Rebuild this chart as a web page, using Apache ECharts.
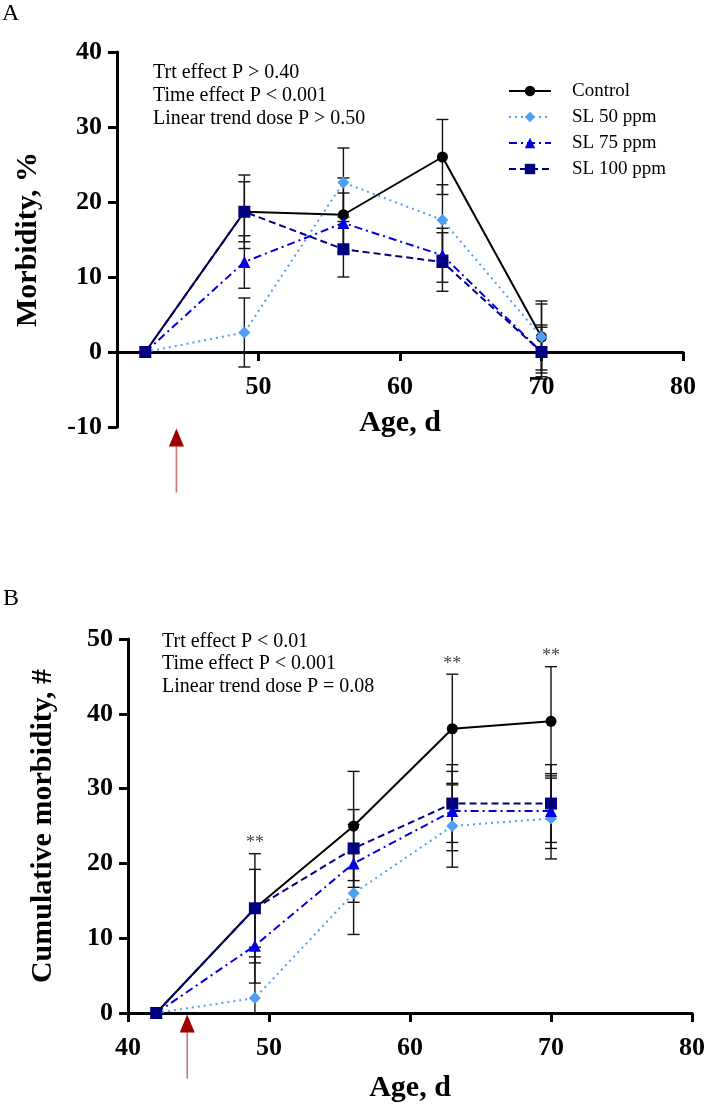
<!DOCTYPE html>
<html>
<head>
<meta charset="utf-8">
<script src="https://cdn.jsdelivr.net/npm/echarts@6/dist/echarts.min.js"></script>
<style>
html,body{margin:0;padding:0;background:#fff;}
#chart{width:708px;height:1104px;}
</style>
</head>
<body>
<div id="chart"></div>
<script>
// ---------- data ----------
const days = [42, 49, 56, 63, 70];
const xTicks = [40, 50, 60, 70, 80];
const seriesNames = ['Control', 'SL 50 ppm', 'SL 75 ppm', 'SL 100 ppm'];

// Panel A: Morbidity, %
const ctrlA  = [0, 18.7, 18.3, 26.0, 2.0];
const sl50A  = [0, 2.6, 22.6, 17.6, 2.0];
const sl75A  = [0, 12.0, 17.2, 12.9, 0];
const sl100A = [0, 18.7, 13.7, 12.0, 0];
const ctrlErrA  = [0, 4.9, 4.9, 5.0, 4.8];
const sl50ErrA  = [0, 4.6, 4.6, 4.7, 4.4];
const sl75ErrA  = [0, 3.5, 4.0, 3.6, 3.3];
const sl100ErrA = [0, 4.0, 3.7, 3.9, 3.6];
const yTicksA = [-10, 0, 10, 20, 30, 40];

// Panel B: Cumulative morbidity, #
const ctrlB  = [0, 14, 25, 38, 39];
const sl50B  = [0, 2, 16, 25, 26];
const sl75B  = [0, 9, 20, 27, 27];
const sl100B = [0, 14, 22, 28, 28];
const ctrlErrB  = [0, 7.3, 7.3, 7.3, 7.3];
const sl50ErrB  = [0, 5.5, 5.5, 5.5, 5.4];
const sl75ErrB  = [0, 5.0, 5.2, 5.3, 5.0];
const sl100ErrB = [0, 5.2, 5.2, 5.2, 5.2];
const yTicksB = [0, 10, 20, 30, 40, 50];

const sigDaysB = [49, 63, 70];    // days marked ** in panel B
const treatmentDay = 44.2;        // red arrow

const annotA = ['Trt effect P > 0.40', 'Time effect P < 0.001', 'Linear trend dose P > 0.50'];
const annotB = ['Trt effect P < 0.01', 'Time effect P < 0.001', 'Linear trend dose P = 0.08'];

// ---------- styles ----------
const FF = '"Liberation Serif", "Times New Roman", serif';
const styles = [
  {color: '#000000', symbol: 'circle', size: 11, type: 'solid'},
  {color: '#4d9ef5', symbol: 'diamond', size: 12, type: [2, 4]},
  {color: '#0000e6', symbol: 'triangle', size: 12, type: [8, 4, 2, 4]},
  {color: '#000080', symbol: 'rect', size: 12, type: [7, 4]}
];

function zip(x, y) { return x.map((v, i) => [v, y[i]]); }
function zip3(x, y, e) { return x.map((v, i) => [v, y[i], e[i]]); }

function errSeries(gi, vals, errs, clipMin) {
  return {
    type: 'custom', xAxisIndex: gi, yAxisIndex: gi, z: 1, silent: true,
    data: zip3(days, vals, errs),
    encode: {x: 0, y: 1},
    renderItem: function (params, api) {
      const x = api.value(0), y = api.value(1), e = api.value(2);
      if (!e) return;
      let lo = y - e, hi = y + e, lowCap = true;
      if (clipMin != null && lo < clipMin) { lo = clipMin; lowCap = false; }
      const pH = api.coord([x, hi]), pL = api.coord([x, lo]);
      const st = {stroke: '#111', lineWidth: 1.4};
      const ch = [
        {type: 'line', shape: {x1: pH[0], y1: pH[1], x2: pL[0], y2: pL[1]}, style: st},
        {type: 'line', shape: {x1: pH[0] - 6, y1: pH[1], x2: pH[0] + 6, y2: pH[1]}, style: st}
      ];
      if (lowCap) ch.push({type: 'line', shape: {x1: pL[0] - 6, y1: pL[1], x2: pL[0] + 6, y2: pL[1]}, style: st});
      return {type: 'group', children: ch};
    }
  };
}

function lineSeries(gi, idx, vals) {
  const s = styles[idx];
  return {
    type: 'line', name: seriesNames[idx], xAxisIndex: gi, yAxisIndex: gi,
    data: zip(days, vals), z: 3 + idx,
    symbol: s.symbol, symbolSize: s.size, showSymbol: true,
    lineStyle: {color: s.color, width: 2, type: s.type},
    itemStyle: {color: s.color, borderWidth: 0},
    emphasis: {disabled: true}, animation: false
  };
}

function arrowSeries(gi, yMin) {
  return {
    type: 'custom', xAxisIndex: gi, yAxisIndex: gi, silent: true, z: 10,
    data: [[treatmentDay, yMin]], encode: {x: 0, y: 1},
    renderItem: function (params, api) {
      const p = api.coord([api.value(0), api.value(1)]);
      const tip = p[1] + 1.5;
      return {type: 'group', children: [
        {type: 'line', shape: {x1: p[0], y1: tip + 17, x2: p[0], y2: tip + 64},
         style: {stroke: '#c47878', lineWidth: 1.6}},
        {type: 'polygon', shape: {points: [[p[0], tip], [p[0] - 7.5, tip + 18], [p[0] + 7.5, tip + 18]]},
         style: {fill: '#a00000'}}
      ]};
    }
  };
}

function sigSeries() {
  const data = sigDaysB.map(d => {
    const i = days.indexOf(d);
    return [d, ctrlB[i] + ctrlErrB[i]];
  });
  return {
    type: 'custom', xAxisIndex: 1, yAxisIndex: 1, silent: true, z: 10,
    data: data, encode: {x: 0, y: 1},
    renderItem: function (params, api) {
      const p = api.coord([api.value(0), api.value(1)]);
      return {type: 'text', style: {text: '**', x: p[0], y: p[1] - 1, align: 'center', verticalAlign: 'bottom',
        font: '18px ' + FF, fill: '#444'}};
    }
  };
}

function xAxisCfg(gi, hideFirst, gap, offset) {
  return {
    gridIndex: gi, type: 'value', min: xTicks[0], max: xTicks[xTicks.length - 1], interval: 10,
    position: 'bottom', offset: offset,
    axisLine: {show: true, onZero: false, lineStyle: {color: '#000', width: 3}},
    axisTick: {show: true, length: 9, lineStyle: {color: '#000', width: 3}},
    axisLabel: {margin: 22, color: '#000', fontFamily: FF, fontWeight: 'bold', fontSize: 26,
      formatter: v => (hideFirst && v === xTicks[0]) ? '' : String(v)},
    splitLine: {show: false},
    name: 'Age, d', nameLocation: 'middle', nameGap: gap,
    nameTextStyle: {color: '#000', fontFamily: FF, fontWeight: 'bold', fontSize: 30}
  };
}
function yAxisCfg(gi, ticks, name, gap) {
  return {
    gridIndex: gi, type: 'value', min: ticks[0], max: ticks[ticks.length - 1], interval: 10,
    axisLine: {show: true, onZero: false, lineStyle: {color: '#000', width: 3}},
    axisTick: {show: true, length: 9, lineStyle: {color: '#000', width: 3}},
    axisLabel: {margin: 15, color: '#000', fontFamily: FF, fontWeight: 'bold', fontSize: 26},
    splitLine: {show: false},
    name: name, nameLocation: 'middle', nameGap: gap, nameRotate: 90,
    nameTextStyle: {color: '#000', fontFamily: FF, fontWeight: 'bold', fontSize: 30}
  };
}

const chart = echarts.init(document.getElementById('chart'), null, {renderer: 'canvas'});
const option = {
  animation: false,
  backgroundColor: '#fff',
  grid: [
    {left: 117, top: 52, width: 566, height: 375},
    {left: 128, top: 639, width: 565, height: 376}
  ],
  // panel A x axis sits on the zero line (10 units above the bottom of a 375px / 50-unit axis)
  xAxis: [xAxisCfg(0, true, 56, -75), xAxisCfg(1, false, 60, 0)],
  yAxis: [yAxisCfg(0, yTicksA, 'Morbidity, %', 74), yAxisCfg(1, yTicksB, 'Cumulative morbidity, #', 70)],
  legend: {
    data: seriesNames, orient: 'vertical', left: 503, top: 76,
    itemWidth: 42, itemHeight: 13, itemGap: 6,
    textStyle: {fontFamily: FF, fontSize: 19, color: '#000', lineHeight: 20, padding: [0, 0, 0, 16]},
    selectedMode: false
  },
  graphic: [
    {type: 'text', left: 2, top: 2, style: {text: 'A', font: '24px ' + FF, fill: '#000'}},
    {type: 'text', left: 3, top: 587, style: {text: 'B', font: '24px ' + FF, fill: '#000'}},
    {type: 'text', left: 153, top: 61, style: {text: annotA.join('\n'), font: '20px ' + FF, lineHeight: 23, fill: '#000'}},
    {type: 'text', left: 162, top: 630, style: {text: annotB.join('\n'), font: '20px ' + FF, lineHeight: 22.5, fill: '#000'}}
  ],
  series: [
    errSeries(0, ctrlA, ctrlErrA, null),
    errSeries(0, sl50A, sl50ErrA, null),
    errSeries(0, sl75A, sl75ErrA, null),
    errSeries(0, sl100A, sl100ErrA, null),
    lineSeries(0, 0, ctrlA),
    lineSeries(0, 1, sl50A),
    lineSeries(0, 2, sl75A),
    lineSeries(0, 3, sl100A),
    arrowSeries(0, yTicksA[0]),
    errSeries(1, ctrlB, ctrlErrB, 0),
    errSeries(1, sl50B, sl50ErrB, 0),
    errSeries(1, sl75B, sl75ErrB, 0),
    errSeries(1, sl100B, sl100ErrB, 0),
    lineSeries(1, 0, ctrlB),
    lineSeries(1, 1, sl50B),
    lineSeries(1, 2, sl75B),
    lineSeries(1, 3, sl100B),
    arrowSeries(1, yTicksB[0]),
    sigSeries()
  ]
};
chart.setOption(option);
</script>
</body>
</html>
